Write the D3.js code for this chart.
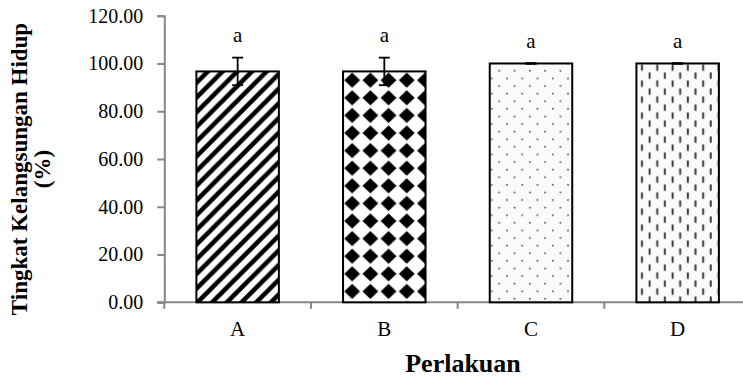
<!DOCTYPE html>
<html>
<head>
<meta charset="utf-8">
<script src="https://cdn.jsdelivr.net/npm/d3@7"></script>
<style>
  html, body { margin: 0; padding: 0; background: #fff; }
  svg { display: block; font-family: "Liberation Serif", "Times New Roman", serif; }
</style>
</head>
<body>
<svg id="chart" width="743" height="379"></svg>
<script>
// Survival rate per treatment (mean ± SD) with significance letters
const categories = ["A", "B", "C", "D"];
const means = [96.67, 96.67, 100.00, 100.00];
const errors = [5.77, 5.77, 0, 0];
const letters = ["a", "a", "a", "a"];
const yTicks = [0, 20, 40, 60, 80, 100, 120];
const fills = ["stripe", "diamond", "dots", "dashes"];

const svg = d3.select("#chart");
const axisColor = "#878787";
const serif = "Liberation Serif";

const x = d3.scaleBand()
  .domain(categories)
  .range([164.3, 751])
  .paddingInner(0.4376)
  .paddingOuter(0.2188);

const y = d3.scaleLinear().domain([0, 120]).range([302.3, 15.7]);

// ---- fill patterns ----
const defs = svg.append("defs");

defs.append("filter").attr("id", "soft")
  .append("feGaussianBlur").attr("stdDeviation", 0.55);

// wide upward diagonal stripes
const pS = defs.append("pattern").attr("id", "stripe")
  .attr("patternUnits", "userSpaceOnUse")
  .attr("width", 14.7).attr("height", 14.7);
pS.append("rect").attr("width", 14.7).attr("height", 14.7).attr("fill", "#fff");
pS.append("path")
  .attr("d", "M-7.35,7.35 L7.35,-7.35 M0,14.7 L14.7,0 M7.35,22.05 L22.05,7.35")
  .attr("stroke", "#000").attr("stroke-width", 4.6);

// solid diamond (rotated checkerboard)
const pD = defs.append("pattern").attr("id", "diamond")
  .attr("patternUnits", "userSpaceOnUse")
  .attr("x", x("B")).attr("y", y(means[1]))
  .attr("width", 18.2).attr("height", 17.6);
pD.append("rect").attr("width", 18.2).attr("height", 17.6).attr("fill", "#fff");
pD.append("path")
  .attr("d", "M9.1,1.2 L17.0,8.8 L9.1,16.4 L1.2,8.8 Z")
  .attr("fill", "#000");

// sparse staggered dots
const pO = defs.append("pattern").attr("id", "dots")
  .attr("patternUnits", "userSpaceOnUse")
  .attr("x", x("C")).attr("y", y(means[2]))
  .attr("width", 15.3).attr("height", 15.2);
pO.append("rect").attr("width", 15.3).attr("height", 15.2).attr("fill", "#fafafa");
[[9.5, 7.4], [1.85, 15.0], [1.85, -0.2], [17.15, 15.0], [17.15, -0.2]].forEach(([cx, cy]) => {
  pO.append("circle").attr("cx", cx).attr("cy", cy).attr("r", 0.95).attr("fill", "#555");
});

// dashed vertical
const pV = defs.append("pattern").attr("id", "dashes")
  .attr("patternUnits", "userSpaceOnUse")
  .attr("x", x("D")).attr("y", y(means[3]))
  .attr("width", 15.3).attr("height", 16);
pV.append("rect").attr("width", 15.3).attr("height", 16).attr("fill", "#fafafa");
pV.append("rect").attr("x", 4.6).attr("y", 1).attr("width", 1.9).attr("height", 6.3).attr("fill", "#333");
pV.append("rect").attr("x", 12.2).attr("y", 9).attr("width", 1.9).attr("height", 6.3).attr("fill", "#333");

// ---- y axis ----
const yAxis = svg.append("g")
  .attr("transform", "translate(164.3,0)")
  .call(d3.axisLeft(y).tickValues(yTicks).tickFormat(d3.format(".2f")).tickSize(7).tickPadding(14));
yAxis.select(".domain").attr("stroke", axisColor).attr("stroke-width", 2);
yAxis.selectAll(".tick line").attr("stroke", axisColor).attr("stroke-width", 2);
yAxis.selectAll(".tick text")
  .attr("font-family", serif).attr("font-size", 20).attr("fill", "#000");

// ---- x axis ----
const xAxis = svg.append("g")
  .attr("transform", `translate(0,${y(0)})`)
  .call(d3.axisBottom(x).tickSize(0).tickPadding(18.5));
xAxis.select(".domain").remove();
xAxis.selectAll(".tick text")
  .attr("font-family", serif).attr("font-size", 21).attr("fill", "#000");

const bounds = d3.range(categories.length + 1).map(i => x.range()[0] + i * x.step());
xAxis.append("line")
  .attr("x1", x.range()[0] - 7).attr("x2", x.range()[1])
  .attr("stroke", axisColor).attr("stroke-width", 2);
xAxis.selectAll("line.bound").data(bounds).join("line")
  .attr("class", "bound")
  .attr("x1", d => d).attr("x2", d => d)
  .attr("y1", 0).attr("y2", 6.5)
  .attr("stroke", axisColor).attr("stroke-width", 2);

// ---- bars ----
const bars = svg.append("g");
bars.selectAll("rect.fillbar").data(categories).join("rect")
  .attr("class", "fillbar")
  .attr("x", d => x(d))
  .attr("y", (d, i) => y(means[i]))
  .attr("width", x.bandwidth())
  .attr("height", (d, i) => y(0) - y(means[i]))
  .attr("fill", (d, i) => `url(#${fills[i]})`)
  .attr("filter", (d, i) => i < 2 ? "url(#soft)" : null);
bars.selectAll("rect.outline").data(categories).join("rect")
  .attr("class", "outline")
  .attr("x", d => x(d))
  .attr("y", (d, i) => y(means[i]))
  .attr("width", x.bandwidth())
  .attr("height", (d, i) => y(0) - y(means[i]))
  .attr("fill", "none")
  .attr("stroke", "#000").attr("stroke-width", 2);

// ---- error bars ----
const err = svg.append("g").attr("stroke", "#000").attr("stroke-width", 1.8);
categories.forEach((c, i) => {
  const cx = x(c) + x.bandwidth() / 2;
  const top = y(means[i] + errors[i]);
  const bot = y(means[i] - errors[i]);
  err.append("line").attr("x1", cx).attr("x2", cx).attr("y1", top).attr("y2", bot);
  err.append("line").attr("x1", cx - 5.5).attr("x2", cx + 5.5).attr("y1", top).attr("y2", top)
    .attr("stroke-width", errors[i] === 0 ? 2.6 : 1.8);
  if (errors[i] > 0) {
    err.append("line").attr("x1", cx - 5.5).attr("x2", cx + 5.5).attr("y1", bot).attr("y2", bot);
  }
});

// ---- significance letters ----
svg.append("g").selectAll("text").data(categories).join("text")
  .attr("x", d => x(d) + x.bandwidth() / 2)
  .attr("y", (d, i) => y(means[i] + errors[i]) - 15.5)
  .attr("text-anchor", "middle")
  .attr("font-family", serif)
  .attr("font-size", 21)
  .text((d, i) => letters[i]);

// ---- axis titles ----
svg.append("text")
  .attr("x", 463).attr("y", 372)
  .attr("text-anchor", "middle")
  .attr("font-family", serif)
  .attr("font-weight", "bold").attr("font-size", 26)
  .text("Perlakuan");

const yt = svg.append("text")
  .attr("transform", "translate(0,169) rotate(-90)")
  .attr("text-anchor", "middle")
  .attr("font-family", serif)
  .attr("font-weight", "bold").attr("font-size", 23);
yt.append("tspan").attr("x", 0).attr("y", 27).text("Tingkat Kelangsungan Hidup");
yt.append("tspan").attr("x", 0).attr("y", 50).text("(%)");
</script>
</body>
</html>
